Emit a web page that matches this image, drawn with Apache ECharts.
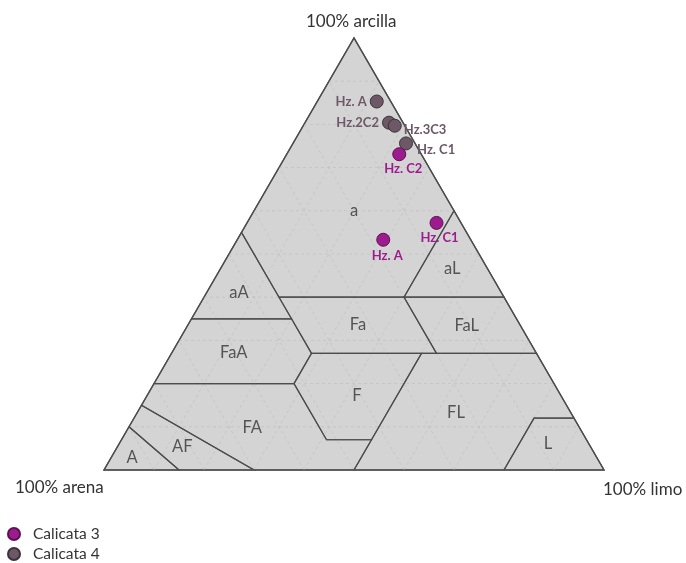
<!DOCTYPE html>
<html>
<head>
<meta charset="utf-8">
<script src="https://cdn.jsdelivr.net/npm/echarts@6/dist/echarts.min.js"></script>
<style>
  html, body { margin: 0; padding: 0; background: #fff; }
  #chart { width: 686px; height: 563px; }
</style>
</head>
<body>
<div id="chart"></div>
<script>
// Textural triangle (sand / silt / clay), compositions as [arena, limo, arcilla] in %
const cornerLabels = ['100% arcilla', '100% arena', '100% limo'];

// Textural class polygons
const classNames = ['a', 'aL', 'aA', 'Fa', 'FaL', 'FaA', 'F', 'FL', 'L', 'FA', 'AF', 'A'];
const classVertices = [
  [[0, 0, 100], [45, 0, 55], [45, 15, 40], [20, 40, 40], [0, 40, 60]],
  [[0, 40, 60], [20, 40, 40], [0, 60, 40]],
  [[45, 0, 55], [65, 0, 35], [45, 20, 35], [45, 15, 40]],
  [[45, 15, 40], [20, 40, 40], [20, 53, 27], [45, 28, 27], [45, 20, 35]],
  [[20, 40, 40], [0, 60, 40], [0, 73, 27], [20, 53, 27]],
  [[65, 0, 35], [45, 20, 35], [45, 28, 27], [52, 28, 20], [80, 0, 20]],
  [[45, 28, 27], [23, 50, 27], [43, 50, 7], [52, 41, 7], [52, 28, 20]],
  [[23, 50, 27], [0, 73, 27], [0, 88, 12], [8, 80, 12], [20, 80, 0], [50, 50, 0], [43, 50, 7]],
  [[8, 80, 12], [0, 88, 12], [0, 100, 0], [20, 80, 0]],
  [[80, 0, 20], [52, 28, 20], [52, 41, 7], [43, 50, 7], [50, 50, 0], [70, 30, 0], [85, 0, 15]],
  [[85, 0, 15], [70, 30, 0], [85, 15, 0], [90, 0, 10]],
  [[90, 0, 10], [85, 15, 0], [100, 0, 0]]
];
// Where each class name is written
const classLabelAt = [
  [20, 20, 60], [7, 46.3, 46.7], [52.5, 6.5, 41], [32.4, 34, 33.6], [10.8, 55.9, 33.3], [60.5, 12.4, 27.1],
  [40.8, 42, 17.2], [23, 63.8, 13.2], [8.2, 85.8, 6], [65.5, 24.8, 9.7], [81.7, 13, 5.3], [93, 4.2, 2.8]
];

// Horizons of each pit
const calicata3Names = ['Hz. A', 'Hz. C1', 'Hz. C2'];
const calicata3Comp = [[17.5, 29.2, 53.3], [4.9, 37.9, 57.2], [4.4, 22.5, 73.1]];
const calicata4Names = ['Hz. A', 'Hz.2C2', 'Hz.3C3', 'Hz. C1'];
const calicata4Comp = [[2.8, 11.9, 85.3], [2.8, 16.8, 80.4], [2.0, 18.3, 79.7], [1.8, 22.6, 75.6]];

// Ternary composition -> plane position (x: 0..100 across the base, y: clay %)
function toXY(c) {
  const s = c[0] + c[1] + c[2];
  const silt = c[1] / s * 100, clay = c[2] / s * 100;
  return [silt + clay / 2, clay];
}

const FONT = 'Lato, "Open Sans", sans-serif';
const C3 = '#9c1c8e', C4 = '#6d5867';

const chart = echarts.init(document.getElementById('chart'), null, { renderer: 'canvas' });

// Label placement for the horizon markers
const c3LabelPos = [
  { position: 'bottom', distance: 3, offset: [4, 0] },
  { position: 'bottom', distance: 1, offset: [3, 0] },
  { position: 'bottom', distance: 1, offset: [4, 0] }
];
const c4LabelPos = [
  { position: 'left', distance: 3 },
  { position: 'left', distance: 3 },
  { position: 'right', distance: 2, offset: [0, 4] },
  { position: 'right', distance: 4, offset: [0, 6] }
];

function pointSeries(name, names, comps, color, border, labelPos) {
  return {
    name: name,
    type: 'scatter',
    symbol: 'circle',
    symbolSize: 13,
    z: 10,
    itemStyle: { color: color, borderColor: border, borderWidth: 1, opacity: 1 },
    data: comps.map((c, i) => ({
      value: toXY(c),
      name: names[i],
      label: Object.assign({
        show: true,
        formatter: names[i],
        color: color,
        fontFamily: FONT,
        fontWeight: 'bold',
        fontSize: 13
      }, labelPos[i])
    }))
  };
}

const triangle = [[100, 0, 0], [0, 100, 0], [0, 0, 100]];
const gridSteps = [10, 20, 30, 40, 50, 60, 70, 80, 90];

const option = {
  animation: false,
  grid: { left: 104, right: 82, top: 38, bottom: 93, containLabel: false },
  xAxis: { type: 'value', min: 0, max: 100, show: false },
  yAxis: { type: 'value', min: 0, max: 100, show: false },
  legend: {
    orient: 'vertical',
    left: 7,
    top: 526,
    height: 120,
    padding: 0,
    itemWidth: 24,
    itemHeight: 12,
    itemGap: 4,
    icon: 'circle',
    textStyle: { fontFamily: FONT, fontSize: 15.5, color: '#333', padding: [0, 0, 0, 2] },
    data: ['Calicata 3', 'Calicata 4']
  },
  graphic: [
    { type: 'text', left: 306, top: 13, style: { text: cornerLabels[0], font: '17px ' + FONT, fill: '#333' } },
    { type: 'text', left: 15, top: 479, style: { text: cornerLabels[1], font: '17px ' + FONT, fill: '#333' } },
    { type: 'text', left: 603, top: 481, style: { text: cornerLabels[2], font: '17px ' + FONT, fill: '#333' } }
  ],
  series: [
    {
      type: 'custom',
      silent: true,
      z: 1,
      data: [0],
      renderItem: function (params, api) {
        return {
          type: 'polygon',
          shape: { points: triangle.map(v => api.coord(toXY(v))) },
          style: { fill: '#d4d4d4', stroke: '#4a4a4a', lineWidth: 1.4 }
        };
      }
    },
    {
      type: 'custom',
      silent: true,
      z: 2,
      data: gridSteps.map((k, i) => i),
      renderItem: function (params, api) {
        const k = gridSteps[params.dataIndex];
        const segs = [
          [[100 - k, 0, k], [0, 100 - k, k]],
          [[100 - k, k, 0], [0, k, 100 - k]],
          [[k, 100 - k, 0], [k, 0, 100 - k]]
        ];
        return {
          type: 'group',
          children: segs.map(s => ({
            type: 'line',
            shape: (function () {
              const a = api.coord(toXY(s[0])), b = api.coord(toXY(s[1]));
              return { x1: a[0], y1: a[1], x2: b[0], y2: b[1] };
            })(),
            style: { stroke: '#c2c2c2', lineWidth: 0.8, lineDash: [3, 3] }
          }))
        };
      }
    },
    {
      type: 'custom',
      silent: true,
      z: 3,
      data: classVertices.map((v, i) => i),
      renderItem: function (params, api) {
        const verts = classVertices[params.dataIndex];
        return {
          type: 'polygon',
          shape: { points: verts.map(v => api.coord(toXY(v))) },
          style: { fill: 'none', stroke: '#4d4d4d', lineWidth: 1.2 }
        };
      }
    },
    {
      type: 'scatter',
      silent: true,
      z: 4,
      symbolSize: 0,
      data: classLabelAt.map((c, i) => ({ value: toXY(c), name: classNames[i] })),
      label: {
        show: true,
        position: 'inside',
        formatter: p => p.name,
        fontFamily: FONT,
        fontSize: 16.5,
        color: '#333'
      }
    },
    pointSeries('Calicata 4', calicata4Names, calicata4Comp, C4, '#3e3139', c4LabelPos),
    pointSeries('Calicata 3', calicata3Names, calicata3Comp, C3, '#5e0f55', c3LabelPos)
  ]
};

chart.setOption(option);
</script>
</body>
</html>
